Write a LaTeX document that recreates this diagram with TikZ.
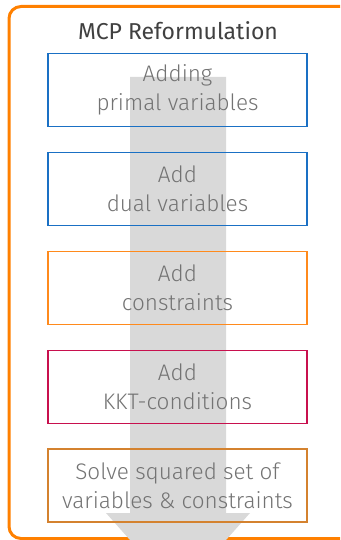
\documentclass[tikz,border=0pt]{standalone}
\usepackage{fontspec}
\setmainfont{Fira Sans}[UprightFont={* Light}]
\newfontfamily\titlefont{Fira Sans}
\definecolor{frameorange}{HTML}{FF8000}
\definecolor{stepblue}{HTML}{1A70C4}
\definecolor{steporange}{HTML}{FF8A1C}
\definecolor{stepcrimson}{HTML}{C8104E}
\definecolor{stepbrown}{HTML}{D4822F}
\definecolor{flowgray}{HTML}{D9D9D9}
\definecolor{labelgray}{HTML}{737373}
\definecolor{titlegray}{HTML}{404040}
\begin{document}
\begin{tikzpicture}[x=1pt,y=-1pt,
  outerframe/.style={draw=frameorange,line width=3pt,rounded corners=12pt},
  stepbox/.style={draw=#1,line width=1.5pt,minimum width=259pt,minimum height=73pt,
    inner sep=0pt,align=center,text=labelgray,font=\fontsize{22.5}{29}\selectfont},
  titletext/.style={text=titlegray,font=\titlefont\fontsize{23}{28}\selectfont,inner sep=0pt}]
\useasboundingbox (0,0) rectangle (340,540);
\clip (0,0) rectangle (340,540);
% enclosing frame, open to the right
\draw[outerframe] (9,6.5) rectangle (370,538.5);
\node[titletext,anchor=base] (title) at (178,40) {MCP Reformulation};
% wide process arrow running behind the steps
\coordinate (shaftL) at (130,77);
\coordinate (shaftR) at (226,77);
\fill[flowgray] (shaftL) -- (shaftR) -- (226,513) -- (250,513) -- (178,594)
  -- (106,513) -- (130,513) -- cycle;
% the reformulation steps
\node[stepbox=stepblue]    (primal) at (177.5,90)  {Adding\\primal variables};
\node[stepbox=stepblue]    (dual)   at (177.5,189) {Add\\dual variables};
\node[stepbox=steporange]  (cons)   at (177.5,288) {Add\\constraints};
\node[stepbox=stepcrimson] (kkt)    at (177.5,387) {Add\\KKT-conditions};
\node[stepbox=stepbrown]   (solve)  at (177.5,485.5) {Solve squared set of\\variables \& constraints};
\end{tikzpicture}
\end{document}
